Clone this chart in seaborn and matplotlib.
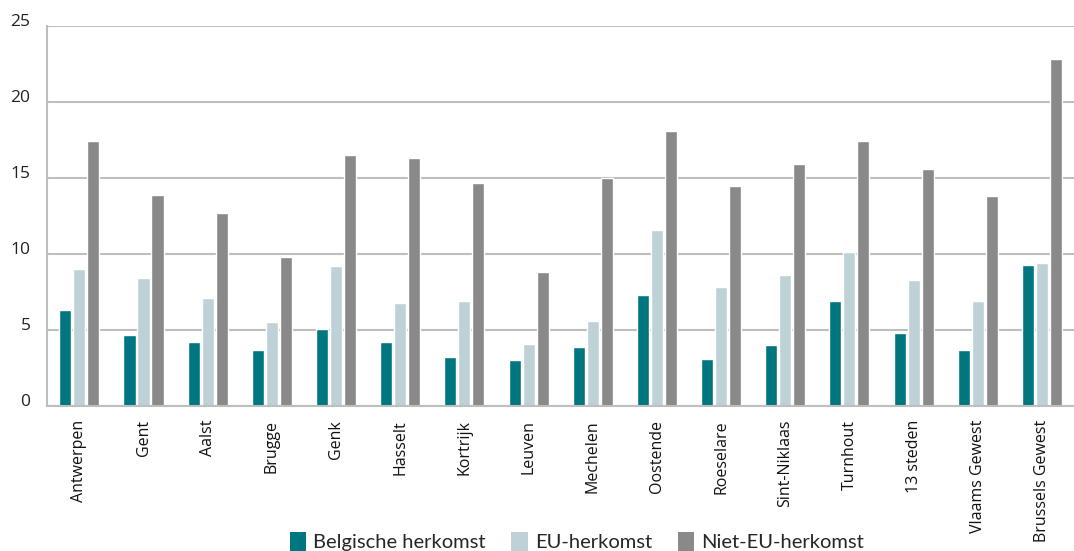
import numpy as np
import pandas as pd
import seaborn as sns
import matplotlib.pyplot as plt
from matplotlib.patches import Patch

categories = ["Antwerpen", "Gent", "Aalst", "Brugge", "Genk", "Hasselt", "Kortrijk",
              "Leuven", "Mechelen", "Oostende", "Roeselare", "Sint-Niklaas", "Turnhout",
              "13 steden", "Vlaams Gewest", "Brussels Gewest"]
belgische = [6.3, 4.7, 4.2, 3.7, 5.1, 4.2, 3.2, 3.0, 3.9, 7.3, 3.1, 4.0, 6.9, 4.8, 3.7, 9.3]
eu = [9.0, 8.4, 7.1, 5.5, 9.2, 6.8, 6.9, 4.1, 5.6, 11.6, 7.8, 8.6, 10.1, 8.3, 6.9, 9.4]
niet_eu = [17.4, 13.9, 12.7, 9.8, 16.5, 16.3, 14.7, 8.8, 15.0, 18.1, 14.5, 15.9, 17.4, 15.6, 13.8, 22.8]
series_names = ["Belgische herkomst", "EU-herkomst", "Niet-EU-herkomst"]
colors = ["#007680", "#BED1D6", "#898989"]
yticks = [0, 5, 10, 15, 20, 25]

df = pd.DataFrame({
    "stad": categories * 3,
    "waarde": belgische + eu + niet_eu,
    "groep": [series_names[0]] * 16 + [series_names[1]] * 16 + [series_names[2]] * 16,
})

sns.set_theme(style="white")
plt.rcParams['font.family'] = ['Open Sans', 'DejaVu Sans']

fig = plt.figure(figsize=(10.74, 5.51), dpi=100)
ax = fig.add_axes([0.044, 0.263, 0.956, 0.69])

sns.barplot(data=df, x="stad", y="waarde", hue="groep", hue_order=series_names,
            palette=colors, width=0.655, gap=0.14, dodge=True, ax=ax,
            saturation=1, legend=False, errorbar=None)

ax.set_ylim(0, 25)
ax.set_xlim(-0.5, 15.5)
ax.set_yticks(yticks)
ax.set_yticklabels([str(v) for v in yticks], fontsize=12.5, color="#222222",
                   family=['Open Sans', 'DejaVu Sans'], va='baseline')
ax.yaxis.grid(True, color="#BEBEBE", linewidth=1.5)
ax.set_axisbelow(True)
ax.set_xlabel("")
ax.set_ylabel("")
ax.tick_params(axis='y', length=0, pad=12)
ax.tick_params(axis='x', which='major', length=0, pad=10)
ax.set_xticks(range(len(categories)))
ax.set_xticklabels(categories, rotation=90, fontsize=11.5, color="#111111")
ax.set_xticks(np.arange(0.5, 15.5, 1.0), minor=True)
ax.tick_params(axis='x', which='minor', direction='in', length=8, width=1.5, color="#BEBEBE")

for s in ["top", "right"]:
    ax.spines[s].set_visible(False)
for s in ["left", "bottom"]:
    ax.spines[s].set_visible(True)
    ax.spines[s].set_color("#BEBEBE")
    ax.spines[s].set_linewidth(1.5)

handles = [Patch(facecolor=c, edgecolor='none') for c in colors]
fig.legend(handles, series_names, loc='lower center', bbox_to_anchor=(0.537, -0.033),
           ncol=3, frameon=False, handlelength=0.8, handleheight=1.05,
           handletextpad=0.35, columnspacing=1.3, prop={'family': 'Lato', 'size': 14.5})

fig.savefig("out.png", dpi=100)
